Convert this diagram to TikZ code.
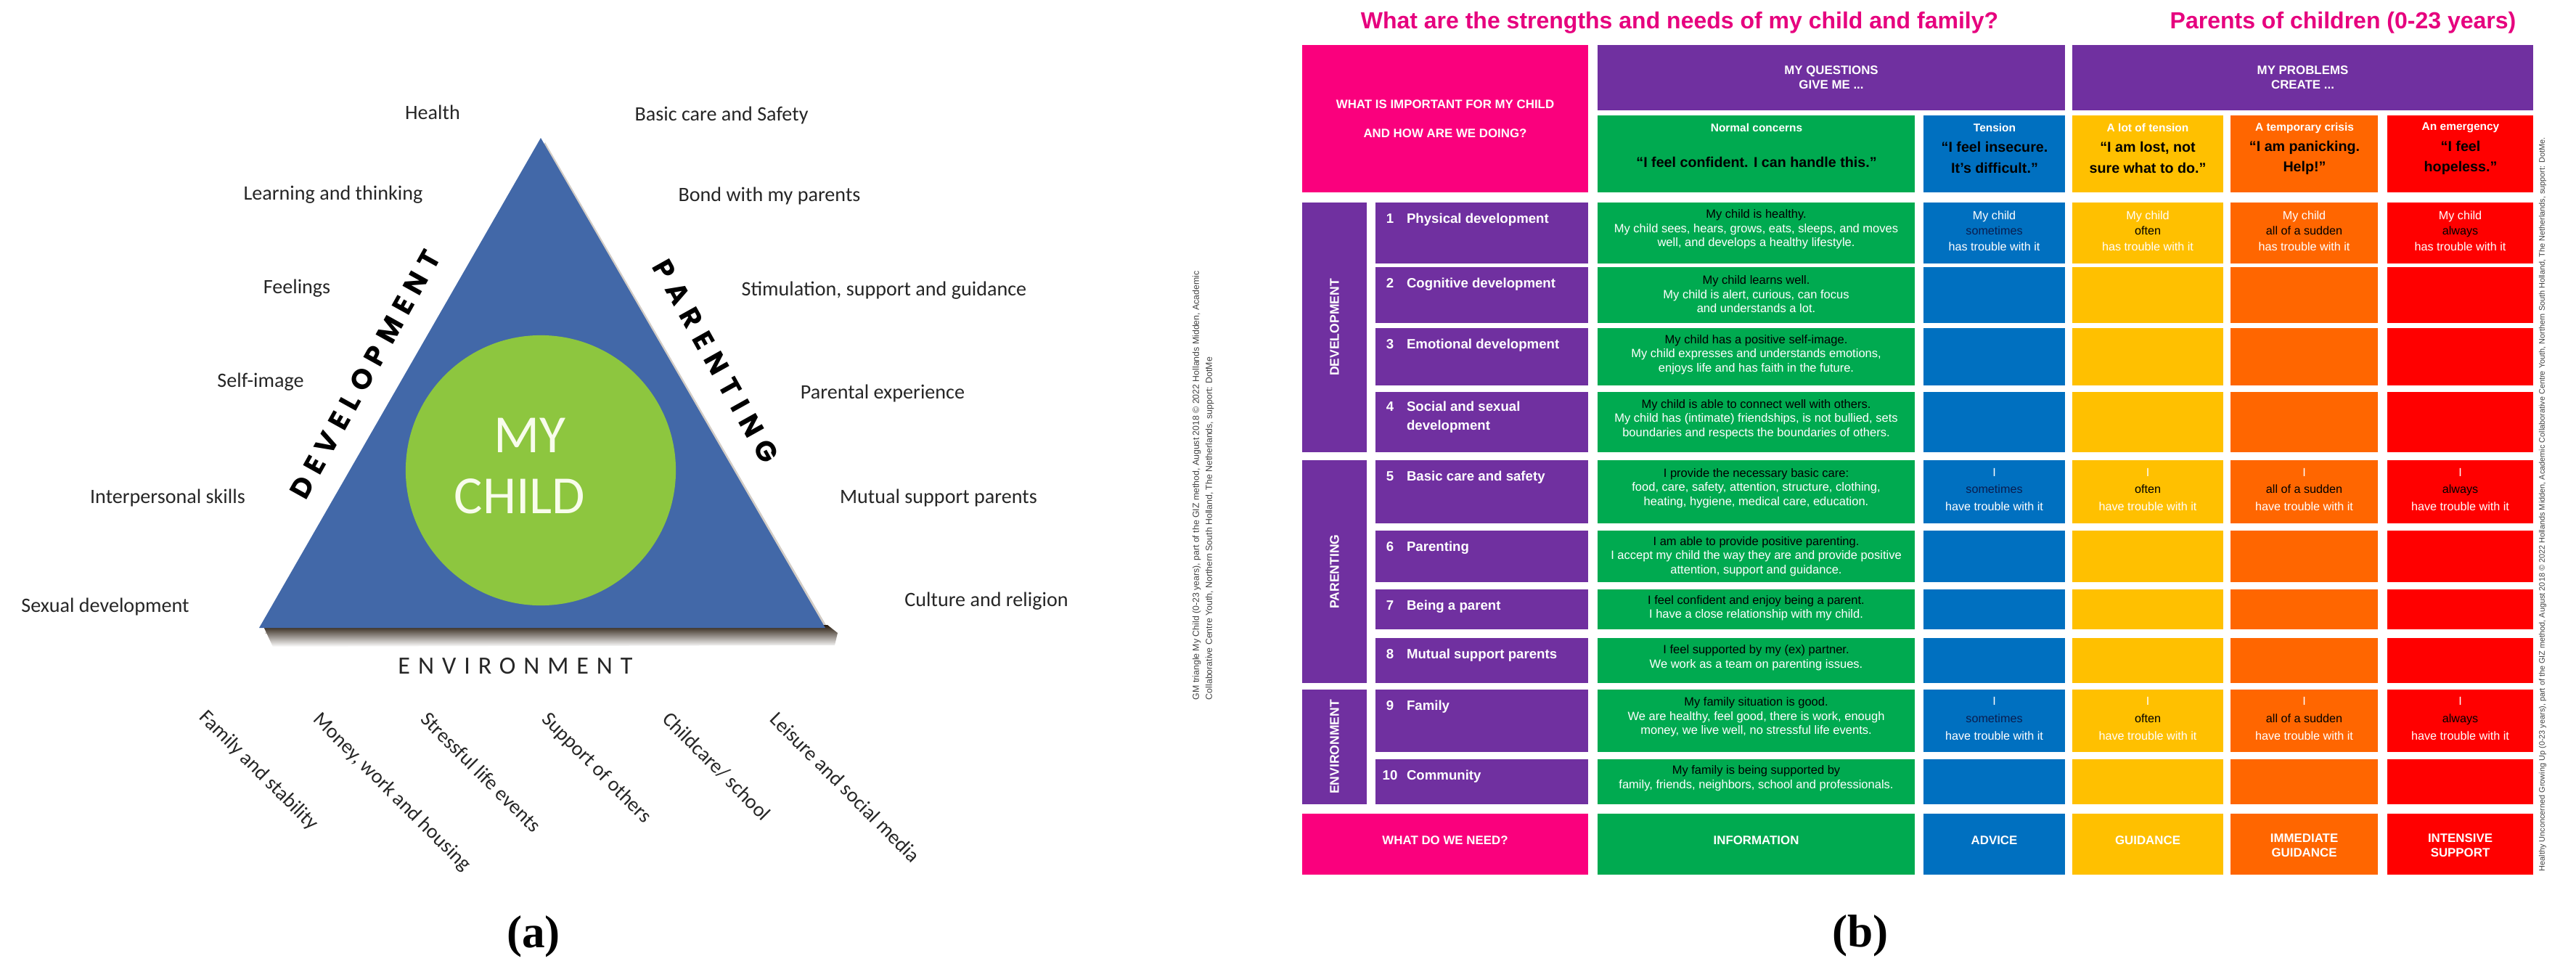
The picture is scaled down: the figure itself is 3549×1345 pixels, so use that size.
\documentclass[tikz,border=0pt]{standalone}
\usepackage{fontspec}
\newfontfamily\carl{Carlito}
\newfontfamily\carlsp[LetterSpace=32]{Carlito}
\newfontfamily\geodev[LetterSpace=27]{Poppins}
\newfontfamily\geopar[LetterSpace=30]{Poppins}
\newfontfamily\ar{Liberation Sans}
\newfontfamily\serb{Liberation Serif}
\usetikzlibrary{calc,fit}
\newcommand\fsz[2]{\fontsize{#1pt}{#2pt}\selectfont}
\definecolor{tblue}{RGB}{66,104,168}
\definecolor{cgreen}{RGB}{141,198,63}
\definecolor{pk}{RGB}{250,0,125}
\definecolor{pkt}{RGB}{230,0,126}
\definecolor{pu}{RGB}{112,48,160}
\definecolor{gr}{RGB}{0,170,80}
\definecolor{bl}{RGB}{0,112,192}
\definecolor{ye}{RGB}{255,192,0}
\definecolor{orr}{RGB}{255,102,0}
\definecolor{rd}{RGB}{255,0,0}
\definecolor{navy}{RGB}{10,30,80}
\definecolor{childtxt}{RGB}{248,252,236}
\tikzset{
 lab/.style={font=\carl\fsz{8}{9.6}, text=black!85},
 botlab/.style={lab, rotate=-45, anchor=north west},
 cellb/.style={inner sep=0pt, outer sep=0pt},
 hdr/.style={font=\ar\bfseries\fsz{4.8}{5.7}, text=white, align=center},
 body/.style={font=\ar\fsz{4.7}{5.55}, text=white, align=center},
 trio/.style={font=\ar\fsz{4.6}{6.1}, text=white, align=center},
 trioB/.style={font=\ar\fsz{4.6}{6.8}, text=white, align=center},
 quote/.style={font=\ar\bfseries\fsz{5.6}{8}, text=black, align=center},
 small/.style={font=\ar\bfseries\fsz{4.4}{5}, text=white},
 rowlab/.style={font=\ar\bfseries\fsz{5.3}{6.4}, text=white, anchor=base west},
 rownum/.style={font=\ar\bfseries\fsz{5.3}{6.4}, text=white, anchor=base},
 seclab/.style={font=\ar\bfseries\fsz{5}{6}, text=white, rotate=90},
 note/.style={font=\ar\fsz{3.5}{5.1}, text=black!75},
 plabel/.style={font=\serb\bfseries\fsz{18}{20}, text=black},
 childlab/.style={font=\carl\fsz{21}{24.5}, text=childtxt},
}
\begin{document}
\begin{tikzpicture}[x=0.01cm,y=-0.01cm, every node/.style={inner sep=0pt,outer sep=0pt}]
\useasboundingbox (0,0) rectangle (3549,1345);
% ================= Panel (a) =================
\coordinate (apex) at (745,190);
\coordinate (bl) at (357,865);
\coordinate (br) at (1137,865);
\fill[black!60!brown, opacity=0.25] ($(apex)+(6,6)$) -- ($(br)+(8,8)$) -- ($(bl)+(8,8)$) -- cycle;
\shade[top color=black!80!brown, bottom color=white] (362,861) -- (1140,861) -- (1154,872) -- (1150,889) -- (376,891) -- cycle;
\fill[tblue] (apex) -- (br) -- (bl) -- cycle;
\node[circle, fill=cgreen, minimum size=3.72cm] (child) at (745,648) {};
\node[childlab] (my) at (730,600) {MY};
\node[childlab] (chl) at (716,684) {CHILD};

\node[lab] (l1) at (596,155) {Health};
\node[lab] (l2) at (994,159) {Basic care and Safety};
\node[lab] (l3) at (459,268) {Learning and thinking};
\node[lab] (l4) at (1060,270) {Bond with my parents};
\node[lab] (l5) at (409,397) {Feelings};
\node[lab] (l6) at (1218,400) {Stimulation, support and guidance};
\node[lab] (l7) at (359,526) {Self-image};
\node[lab] (l8) at (1216,542) {Parental experience};
\node[lab] (l9) at (231,686) {Interpersonal skills};
\node[lab] (l10) at (1293,686) {Mutual support parents};
\node[lab] (l11) at (145,836) {Sexual development};
\node[lab] (l12) at (1359,828) {Culture and religion};

\node[font=\geodev\bfseries\fsz{11}{13}, rotate=60.9] (dev) at (503,516) {DEVELOPMENT};
\node[font=\geopar\bfseries\fsz{11}{13}, rotate=-60.8] (par) at (986,498) {PARENTING};
\node[font=\carlsp\fsz{9.7}{11}, text=black!85] (env) at (710,918) {ENVIRONMENT};

\node[botlab] (e1) at (287,976) {Family and stability};
\node[botlab] (e2) at (444,979) {Money, work and housing};
\node[botlab] (e3) at (592,979) {Stressful life events};
\node[botlab] (e4) at (759,979) {Support of others};
\node[botlab] (e5) at (925,979) {Childcare/ school};
\node[botlab] (e6) at (1073,979) {Leisure and social media};

\node[plabel] (pa) at (735,1290) {(a)};

% copyright left
\node[note, rotate=90, anchor=north west, align=left] (cr1) at (1643,964) {GM triangle My Child (0-23 years), part of the GIZ method, August 2018 © 2022 Hollands Midden, Academic\\Collaborative Centre Youth, Northern South Holland, The Netherlands, support: DotMe};

% ================= Panel (b) =================
\node[font=\ar\bfseries\fsz{9.1}{11}, text=pkt] (title) at (2314,31) {What are the strengths and needs of my child and family?};
\node[font=\ar\bfseries\fsz{9.1}{11}, text=pkt] (title2) at (3228,31) {Parents of children (0-23 years)};

\node[cellb, fill=pk, fit={(1794,62) (2188,265)}] (hw) {};
\node[hdr, font=\ar\bfseries\fsz{4.8}{11.4}] (hwt) at (hw.center) {WHAT IS IMPORTANT FOR MY CHILD\\AND HOW ARE WE DOING?};
\node[cellb, fill=pu, fit={(2201,62) (2845,152)}] (hq) {};
\node[hdr] (hqt) at (hq.center) {MY QUESTIONS\\GIVE ME ...};
\node[cellb, fill=pu, fit={(2855,62) (3490,152)}] (hp) {};
\node[hdr] (hpt) at (hp.center) {MY PROBLEMS\\CREATE ...};

\node[cellb, fill=gr, fit={(2201,159) (2638,265)}] (hg) {};
\node[cellb, fill=bl, fit={(2650,159) (2845,265)}] (hb) {};
\node[cellb, fill=ye, fit={(2855,159) (3063,265)}] (hy) {};
\node[cellb, fill=orr, fit={(3073,159) (3276,265)}] (ho) {};
\node[cellb, fill=rd, fit={(3289,159) (3490,265)}] (hr) {};
\node[small] (hgs) at (2420,176) {Normal concerns};
\node[small] (hbs) at (2748,176) {Tension};
\node[small] (hys) at (2959,176) {A lot of tension};
\node[small] (hos) at (3175,176) {A temporary crisis};
\node[small] (hrs) at (3390,176) {An emergency};
\node[quote] (hgq) at (2420,223) {“I feel confident. I can handle this.”};
\node[quote] (hbq) at (2748,217) {“I feel insecure.\\It’s difficult.”};
\node[quote] (hyq) at (2959,217) {“I am lost, not\\sure what to do.”};
\node[quote] (hoq) at (3175,217) {“I am panicking.\\Help!”};
\node[quote] (hrq) at (3390,217) {“I feel\\hopeless.”};

\foreach \r/\ya/\yb in {1/279/363, 2/368/445, 3/452/531, 4/540/623, 5/634/721, 6/731/802, 7/812/867, 8/879/941, 9/950/1036, 10/1046/1108}{
 \node[cellb, fill=pu, fit={(1895,\ya) (2188,\yb)}] (lab\r) {};
 \node[cellb, fill=gr, fit={(2201,\ya) (2638,\yb)}] (gc\r) {};
 \node[cellb, fill=bl, fit={(2650,\ya) (2845,\yb)}] (bc\r) {};
 \node[cellb, fill=ye, fit={(2855,\ya) (3063,\yb)}] (yc\r) {};
 \node[cellb, fill=orr, fit={(3073,\ya) (3276,\yb)}] (oc\r) {};
 \node[cellb, fill=rd, fit={(3289,\ya) (3490,\yb)}] (rc\r) {};
}
\node[cellb, fill=pu, fit={(1794,279) (1883,623)}] (sdev) {};
\node[cellb, fill=pu, fit={(1794,634) (1883,941)}] (spar) {};
\node[cellb, fill=pu, fit={(1794,950) (1883,1108)}] (senv) {};
\node[seclab] (sdevt) at (sdev.center) {DEVELOPMENT};
\node[seclab] (spart) at (spar.center) {PARENTING};
\node[seclab] (senvt) at (senv.center) {ENVIRONMENT};

\foreach \r/\t in {1/Physical development, 2/Cognitive development, 3/Emotional development, 5/Basic care and safety, 6/Parenting, 7/Being a parent, 8/Mutual support parents, 9/Family, 10/Community}{
 \node[rownum] (n\r) at ($(lab\r.north west)+(20,28)$) {\r};
 \node[rowlab] (t\r) at ($(lab\r.north west)+(43,28)$) {\t};
}
\node[rownum] (n4) at ($(lab4.north west)+(20,26)$) {4};
\node[rowlab] (t4) at ($(lab4.north west)+(43,26)$) {Social and sexual};
\node[rowlab] (t4b) at ($(lab4.north west)+(43,52)$) {development};

\node[body] (g1) at ($(gc1.center)+(0,-5)$) {\textcolor{black}{My child is healthy.}\\My child sees, hears, grows, eats, sleeps, and moves\\well, and develops a healthy lifestyle.};
\node[body] (g2) at ($(gc2.center)+(0,-1)$) {\textcolor{black}{My child learns well.}\\My child is alert, curious, can focus\\and understands a lot.};
\node[body] (g3) at ($(gc3.center)+(0,-3)$) {\textcolor{black}{My child has a positive self-image.}\\My child expresses and understands emotions,\\enjoys life and has faith in the future.};
\node[body] (g4) at ($(gc4.center)+(0,-4)$) {\textcolor{black}{My child is able to connect well with others.}\\My child has (intimate) friendships, is not bullied, sets\\boundaries and respects the boundaries of others.};
\node[body] (g5) at ($(gc5.center)+(0,-5)$) {\textcolor{black}{I provide the necessary basic care:}\\food, care, safety, attention, structure, clothing,\\heating, hygiene, medical care, education.};
\node[body] (g6) at ($(gc6.center)+(0,0)$) {\textcolor{black}{I am able to provide positive parenting.}\\I accept my child the way they are and provide positive\\attention, support and guidance.};
\node[body] (g7) at ($(gc7.center)+(0,-2)$) {\textcolor{black}{I feel confident and enjoy being a parent.}\\I have a close relationship with my child.};
\node[body] (g8) at ($(gc8.center)+(0,-4)$) {\textcolor{black}{I feel supported by my (ex) partner.}\\We work as a team on parenting issues.};
\node[body] (g9) at ($(gc9.center)+(0,-5)$) {\textcolor{black}{My family situation is good.}\\We are healthy, feel good, there is work, enough\\money, we live well, no stressful life events.};
\node[body] (g10) at ($(gc10.center)+(0,-5)$) {\textcolor{black}{My family is being supported by}\\family, friends, neighbors, school and professionals.};

\node[trio] (b1) at ($(bc1.center)+(0,-3)$) {My child\\\textcolor{navy}{sometimes}\\has trouble with it};
\node[trio] (y1) at ($(yc1.center)+(0,-3)$) {My child\\\textcolor{black}{often}\\has trouble with it};
\node[trio] (o1) at ($(oc1.center)+(0,-3)$) {My child\\\textcolor{black}{all of a sudden}\\has trouble with it};
\node[trio] (r1) at ($(rc1.center)+(0,-3)$) {My child\\\textcolor{black}{always}\\has trouble with it};
\foreach \r in {5,9}{
 \node[trioB] (b\r) at ($(bc\r.center)+(0,-3)$) {I\\\textcolor{navy}{sometimes}\\have trouble with it};
 \node[trioB] (y\r) at ($(yc\r.center)+(0,-3)$) {I\\\textcolor{black}{often}\\have trouble with it};
 \node[trioB] (o\r) at ($(oc\r.center)+(0,-3)$) {I\\\textcolor{black}{all of a sudden}\\have trouble with it};
 \node[trioB] (r\r) at ($(rc\r.center)+(0,-3)$) {I\\\textcolor{black}{always}\\have trouble with it};
}

\node[cellb, fill=pk, fit={(1794,1121) (2188,1205)}] (nw) {};
\node[cellb, fill=gr, fit={(2201,1121) (2638,1205)}] (ng) {};
\node[cellb, fill=bl, fit={(2650,1121) (2845,1205)}] (nb) {};
\node[cellb, fill=ye, fit={(2855,1121) (3063,1205)}] (ny) {};
\node[cellb, fill=orr, fit={(3073,1121) (3276,1205)}] (no) {};
\node[cellb, fill=rd, fit={(3289,1121) (3490,1205)}] (nr) {};
\node[hdr] (nwt) at ($(nw.center)+(0,-5)$) {WHAT DO WE NEED?};
\node[hdr] (ngt) at ($(ng.center)+(0,-5)$) {INFORMATION};
\node[hdr] (nbt) at ($(nb.center)+(0,-5)$) {ADVICE};
\node[hdr] (nyt) at ($(ny.center)+(0,-5)$) {GUIDANCE};
\node[hdr] (not) at ($(no.center)+(0,2)$) {IMMEDIATE\\GUIDANCE};
\node[hdr] (nrt) at ($(nr.center)+(0,2)$) {INTENSIVE\\SUPPORT};

\node[note, font=\ar\fsz{3.1}{4}, rotate=90, anchor=west] (cr2) at (3503,1200) {Healthy Unconcerned Growing Up (0-23 years), part of the GIZ method, August 2018 © 2022 Hollands Midden, Academic Collaborative Centre Youth, Northern South Holland, The Netherlands, support: DotMe.};

\node[plabel] (pb) at (2563,1289) {(b)};
\end{tikzpicture}
\end{document}
